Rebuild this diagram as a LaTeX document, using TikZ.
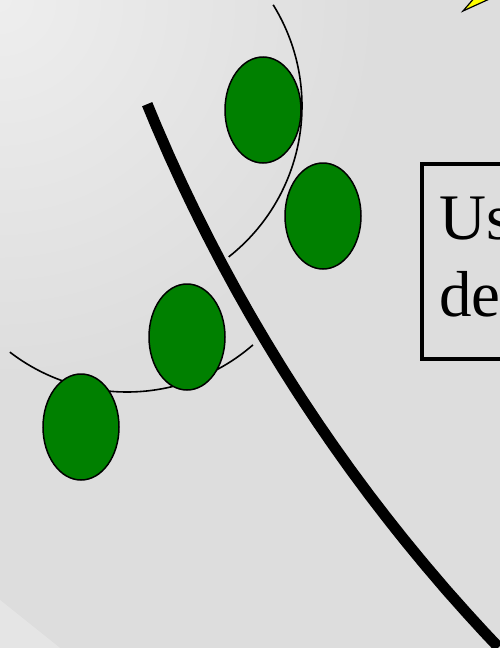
\documentclass[tikz,border=0pt]{standalone}
\usepackage{fontspec}
\setmainfont{Liberation Serif}
\usetikzlibrary{shapes.geometric}
\definecolor{leaf}{HTML}{008000}
\definecolor{bglight}{HTML}{EEEEEE}
\definecolor{bgdark}{HTML}{DDDDDD}
\definecolor{callout}{HTML}{FFFF00}
\tikzset{
  cell/.style={ellipse, draw=black, line width=1.5pt, fill=leaf, minimum width=76pt, minimum height=106pt, inner sep=0pt},
  thinarc/.style={draw=black, line width=1.6pt},
  bigtext/.style={font=\fontsize{65}{77}\selectfont, anchor=base west, inner sep=0pt}
}
\begin{document}
\begin{tikzpicture}[x=1pt,y=-1pt]
\useasboundingbox (0,0) rectangle (500,648);
\clip (0,0) rectangle (500,648);
% background
\fill[bgdark] (0,0) rectangle (500,648);
\shade[inner color=bglight, outer color=bgdark] (0,0) circle (380);
\fill[white, opacity=0.25] (0,600) -- (60,648) -- (0,648) -- cycle;
% yellow pointer at top
\draw[fill=callout, line width=1.2pt, line join=miter] (463,11) -- (476,-4) -- (496,-4) -- cycle;
% thin arcs (circular)
\draw[thinarc] plot[domain=-31.8:51.8, samples=50, smooth] ({110+192*cos(\x)}, {106+192*sin(\x)});
\draw[thinarc] plot[domain=127.6:49, samples=50, smooth] ({127+192*cos(\x)}, {200+192*sin(\x)});
% cells
\node[cell] (e1) at (263,110) {};
\node[cell] (e2) at (323,216) {};
\node[cell] (e3) at (187,337) {};
\node[cell] (e4) at (81,427) {};
% thick boundary curve (circular arc)
\draw[line width=11pt] plot[domain=157.8:136.4, samples=60, smooth] ({1760+1742*cos(\x)}, {-554+1742*sin(\x)});
% text box
\draw[line width=4pt] (422,164) rectangle (540,359);
\node[bigtext] (t1) at (439,239) {Us};
\node[bigtext] (t2) at (439,316) {de};
\end{tikzpicture}
\end{document}
